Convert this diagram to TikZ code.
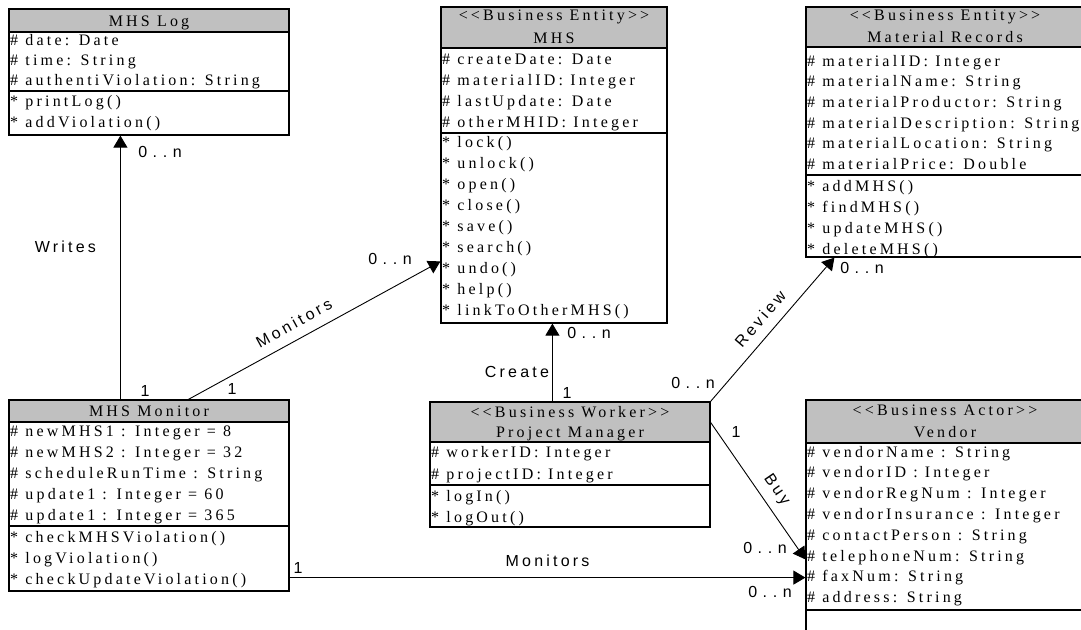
\documentclass[tikz,border=0pt]{standalone}
\usepackage{fontspec}
\newfontfamily\boxfont{Liberation Serif}[LetterSpace=20]
\newfontfamily\lblfont{Liberation Sans}[LetterSpace=20]
\newfontfamily\multfont{Liberation Sans}[LetterSpace=35]
\usetikzlibrary{arrows.meta,fit,calc}
\definecolor{hdr}{HTML}{C0C0C0}
\tikzset{
  boxtxt/.style={font=\boxfont\fontsize{16}{19}\selectfont, inner sep=0pt},
  rowtxt/.style={boxtxt, anchor=base west},
  hdrtxt/.style={boxtxt, anchor=base},
  lbl/.style={font=\lblfont\fontsize{16}{19}\selectfont, inner sep=2pt},
  mult/.style={font=\multfont\fontsize{16}{19}\selectfont, inner sep=0pt},
  assoc/.style={line width=0.9pt, -{Triangle[length=12pt,width=14pt]}},
  boxline/.style={draw=black, line width=1.2pt, inner sep=0pt},
}
\newcommand\classbox[7]{%
  \fill[hdr] (#2,#3) rectangle (#4,#6);
  \node[boxline, fit={(#2,#3)(#4,#5)}] (#1) {};
  \draw[line width=1.2pt] (#2,#6) -- (#4,#6);
  \draw[line width=1.2pt] (#2,#7) -- (#4,#7);
}
\newcommand\classrows[5]{%
  \foreach \rowtext [count=\i] in {#5}{%
    \node[rowtxt] (#1\i) at (#2,{#3+(\i-1)*#4}) {\rowtext};
  }}
\begin{document}
\begin{tikzpicture}[x=1pt,y=-1pt]
\useasboundingbox (0,0) rectangle (1081,629);
\clip (0,0) rectangle (1081,629);

% MHS Log
\classbox{log}{9}{9}{289}{135}{32}{91}
\node[hdrtxt] (logh) at (149,26) {MHS Log};
\classrows{loga}{10}{45.5}{20}{\# date: Date, \# time: String, \# authentiViolation: String}
\classrows{logm}{10}{106}{21}{* printLog(), * addViolation()}

% MHS
\classbox{mhs}{441}{7}{667}{323}{48}{133}
\node[hdrtxt] (mhsh1) at (554,20.5) {<<Business Entity>>};
\node[hdrtxt] (mhsh2) at (554,43.5) {MHS};
\classrows{mhsa}{442}{64}{21}{\# createDate: Date, \# materialID: Integer, \# lastUpdate: Date, \# otherMHID: Integer}
\classrows{mhsm}{442}{147}{21.1}{* lock(), * unlock(), * open(), * close(), * save(), * search(), * undo(), * help(), * linkToOtherMHS()}

% Material Records
\classbox{mr}{806}{7}{1084}{257}{47}{175}
\node[hdrtxt] (mrh1) at (945,20.5) {<<Business Entity>>};
\node[hdrtxt] (mrh2) at (945,42.5) {Material Records};
\classrows{mra}{807}{66}{20.7}{\# materialID: Integer, \# materialName: String, \# materialProductor: String, \# materialDescription: String, \# materialLocation: String, \# materialPrice: Double}
\classrows{mrm}{807}{191}{21}{* addMHS(), * findMHS(), * updateMHS(), * deleteMHS()}

% MHS Monitor
\classbox{mon}{9}{400}{289}{591}{422}{526}
\node[hdrtxt] (monh) at (149,416) {MHS Monitor};
\classrows{mona}{10}{436}{21.2}{\# newMHS1 : Integer = 8, \# newMHS2 : Integer = 32, \# scheduleRunTime : String, \# update1 : Integer = 60, \# update1 : Integer = 365}
\classrows{monm}{10}{542}{21}{* checkMHSViolation(), * logViolation(), * checkUpdateViolation()}

% Project Manager
\classbox{pm}{430}{402}{710}{527}{442}{485}
\node[hdrtxt] (pmh1) at (570,417) {<<Business Worker>>};
\node[hdrtxt] (pmh2) at (570,437) {Project Manager};
\classrows{pma}{431}{457}{22}{\# workerID: Integer, \# projectID: Integer}
\classrows{pmm}{431}{501}{21}{* logIn(), * logOut()}

% Vendor
\classbox{ven}{806}{400}{1084}{660}{443}{610}
\node[hdrtxt] (venh1) at (945,415.5) {<<Business Actor>>};
\node[hdrtxt] (venh2) at (945,437) {Vendor};
\classrows{vena}{807}{457}{20.8}{\# vendorName : String, \# vendorID : Integer, \# vendorRegNum : Integer, \# vendorInsurance : Integer, \# contactPerson : String, \# telephoneNum: String, \# faxNum: String, \# address: String}

% Connectors
\draw[assoc] ([xshift=112pt]mon.north west) -- node[lbl, pos=0.577, left=22pt] (writes) {Writes} ([xshift=112pt]mon.north west |- log.south);
\draw[assoc] ([xshift=180pt]mon.north west) -- node[lbl, sloped, pos=0.45, above=8pt] (mon1) {Monitors} ([yshift=-255pt]mhs.north west);
\draw[assoc] ([xshift=123pt]pm.north west) -- node[lbl, pos=0.38, left=1pt] (create) {Create} ([xshift=123pt]pm.north west |- mhs.south);
\draw[assoc] (pm.north east) -- node[lbl, sloped, pos=0.5, above=8pt] (review) {Review} ([xshift=29pt]mr.south west);
\draw[assoc] ([yshift=-21pt]pm.north east) -- node[lbl, sloped, pos=0.56, above=6pt] (buy) {Buy} ([yshift=-160pt]ven.north west);
\draw[assoc] ([yshift=14pt]mon.south east) -- node[lbl, above=9pt] (mon2) {Monitors} ([yshift=14pt]mon.south east -| ven.west);

% Multiplicities
\node[mult] (w0n) at (160,152) {0..n};
\node[mult] (w1) at (145,391) {1};
\node[mult] (m0n) at (390,259) {0..n};
\node[mult] (m1) at (232,389) {1};
\node[mult] (c0n) at (589,333) {0..n};
\node[mult] (c1) at (567,393) {1};
\node[mult] (r0na) at (693,383) {0..n};
\node[mult] (r0nb) at (862,268) {0..n};
\node[mult] (b1) at (736,432) {1};
\node[mult] (b0n) at (765,548) {0..n};
\node[mult] (mb1) at (298,568) {1};
\node[mult] (mb0n) at (770,592) {0..n};
\end{tikzpicture}
\end{document}
